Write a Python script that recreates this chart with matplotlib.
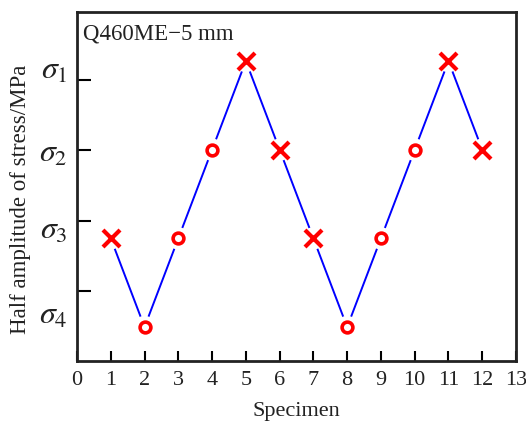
import matplotlib
matplotlib.use("Agg")
import matplotlib.pyplot as plt
import numpy as np

plt.rcParams['font.family'] = ['Liberation Serif', 'DejaVu Serif']
plt.rcParams['mathtext.fontset'] = 'stix'

specimen = [1, 2, 3, 4, 5, 6, 7, 8, 9, 10, 11, 12]
level = [2, 1, 2, 3, 4, 3, 2, 1, 2, 3, 4, 3]   # 4=sigma1, 3=sigma2, 2=sigma3, 1=sigma4
failed = [1, 0, 0, 0, 1, 1, 1, 0, 0, 0, 1, 1]   # 1 -> cross, 0 -> circle
sigma_labels = [r'$\sigma_1$', r'$\sigma_2$', r'$\sigma_3$', r'$\sigma_4$']
sigma_label_pos = [3.92, 2.99, 2.12, 1.16]
tick_pos = [3.786, 3.0, 2.195, 1.406]
xticks = list(range(0, 14))

text_color = '#222222'
fig = plt.figure(figsize=(5.26, 4.26), dpi=100)
ax = fig.add_axes([0.1464, 0.1526, 0.981 - 0.1464, 0.9718 - 0.1526])

x = np.array(specimen)
y = np.array(level)
f = np.array(failed)

ax.plot(x, y, color='#0000ff', lw=1.4, zorder=2)
ax.scatter(x, y, s=260, color='white', edgecolors='none', zorder=3)
ax.scatter(x[f == 1], y[f == 1], marker='x', s=150, color='#ff0000', linewidths=3.0, zorder=4)
ax.scatter(x[f == 0], y[f == 0], marker='o', s=60, facecolors='white', edgecolors='#ff0000', linewidths=2.6, zorder=4)

ax.set_xlim(0, 13)
ax.set_ylim(0.617, 4.553)
ax.set_xticks(xticks)
ax.set_xticklabels([str(t) for t in xticks], fontsize=16, color=text_color)
ax.tick_params(axis='x', direction='in', length=7, width=1.5, top=False, pad=7)

ax.set_yticks(sigma_label_pos)
ax.set_yticklabels(sigma_labels, fontsize=23, color=text_color)
ax.tick_params(axis='y', which='major', length=0, pad=7)
ax.set_yticks(tick_pos, minor=True)
ax.tick_params(axis='y', which='minor', direction='in', length=10, width=1.5, right=False)

for s in ax.spines.values():
    s.set_linewidth(2.0)
    s.set_color('#222222')

ax.text(0.013, 0.968, 'Q460ME\u22125 mm', transform=ax.transAxes, fontsize=16.5, va='top', ha='left', color=text_color)
ax.set_xlabel('Specimen', fontsize=16, labelpad=9, color=text_color)
ax.set_ylabel('Half amplitude of stress/MPa', fontsize=16.5, color=text_color)
ax.yaxis.set_label_coords(-0.105, 0.464)

fig.savefig('out.png', dpi=100)
